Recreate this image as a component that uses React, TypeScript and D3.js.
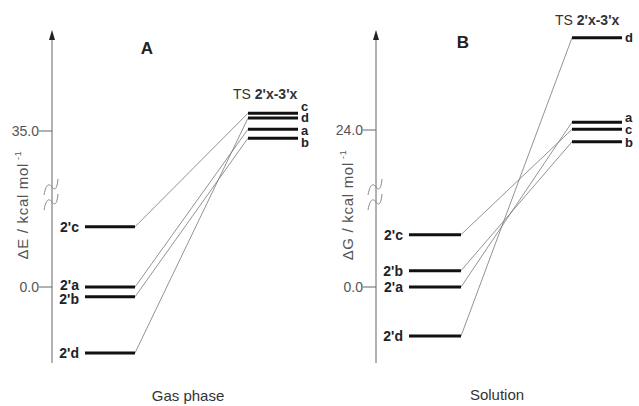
import React from "react";
import * as d3 from "d3";

// species order used by every array below
const species = ["a", "b", "c", "d"];

// panel A (gas phase), ΔE / kcal mol-1
const reactA = [0.0, -2.2, 13.5, -14.8];
const tsA = [35.4, 33.4, 39.0, 37.9];
const ticksA = [0.0, 35.0];

// panel B (solution), ΔG / kcal mol-1
const reactB = [0.0, 2.5, 8.0, -7.5];
const tsB = [25.2, 22.2, 24.1, 38.1];
const ticksB = [0.0, 24.0];

const W = 639;
const H = 406;
const gray = "#666";

type Panel = {
  title: string;
  yLabel: string;
  phase: string;
  react: number[];
  ts: number[];
  ticks: number[];
  axisX: number;
  y: d3.ScaleLinear<number, number>;
  leftX: [number, number];
  rightX: [number, number];
  tsTitle: [number, number];
  titleXY: [number, number];
  phaseXY: [number, number];
  yLabelX: number;
  leftDy: Record<string, number>;
  rightDy: Record<string, number>;
};

const panels: Panel[] = [
  {
    title: "A",
    yLabel: "ΔE / kcal mol",
    phase: "Gas phase",
    react: reactA,
    ts: tsA,
    ticks: ticksA,
    axisX: 52,
    y: d3.scaleLinear().domain([0, 35]).range([287, 131]),
    leftX: [85, 135],
    rightX: [248, 298],
    tsTitle: [233, 99],
    titleXY: [147, 54],
    phaseXY: [188, 401],
    yLabelX: 28,
    leftDy: { a: -2, b: 2, c: 0, d: 0 },
    rightDy: { a: 1, b: 4, c: -7, d: -1 },
  },
  {
    title: "B",
    yLabel: "ΔG / kcal mol",
    phase: "Solution",
    react: reactB,
    ts: tsB,
    ticks: ticksB,
    axisX: 376,
    y: d3.scaleLinear().domain([0, 24]).range([287, 130]),
    leftX: [409, 461],
    rightX: [572, 622],
    tsTitle: [555, 25],
    titleXY: [463, 48],
    phaseXY: [497, 400],
    yLabelX: 353,
    leftDy: { a: 0, b: 0, c: 0, d: 0 },
    rightDy: { a: -5, b: 1, c: 0, d: 0 },
  },
];

function Break({ x, y }: { x: number; y: number }) {
  const p = d3.path();
  [0, 15].forEach((o) => {
    const yy = y + o;
    p.moveTo(x - 8, yy + 9);
    p.bezierCurveTo(x - 6, yy - 2, x - 3, yy - 3, x, yy + 1);
    p.bezierCurveTo(x + 3, yy + 5, x + 5, yy + 3, x + 6, yy - 7);
  });
  return <path d={p.toString()} fill="none" stroke="#888" strokeWidth={1} />;
}

function PanelView({ p }: { p: Panel }) {
  const top = 30;
  const bottom = 363;
  return (
    <g fontFamily="Liberation Sans, Arial, sans-serif">
      <line x1={p.axisX} x2={p.axisX} y1={bottom} y2={top + 8} stroke={gray} strokeWidth={1} />
      <path
        d={`M${p.axisX},${top} L${p.axisX - 3},${top + 10} L${p.axisX + 3},${top + 10} Z`}
        fill="#222"
      />
      {p.ticks.map((t) => (
        <g key={t}>
          <line x1={p.axisX - 13} x2={p.axisX} y1={p.y(t)} y2={p.y(t)} stroke={gray} />
          <text
            x={p.axisX - 13}
            y={p.y(t)}
            dy="0.35em"
            textAnchor="end"
            fontSize={14}
            fill="#555"
          >
            {t.toFixed(1)}
          </text>
        </g>
      ))}
      <Break x={p.axisX} y={186} />
      <text
        transform={`translate(${p.yLabelX},205) rotate(-90)`}
        textAnchor="middle"
        fontSize={15}
        letterSpacing={0.7}
        fill="#555"
      >
        {p.yLabel}
        <tspan fontSize={9} dy={-7} dx={3}>-1</tspan>
      </text>
      <text x={p.titleXY[0]} y={p.titleXY[1]} textAnchor="middle" fontSize={17} fontWeight="bold" fill="#222">
        {p.title}
      </text>
      <text x={p.tsTitle[0]} y={p.tsTitle[1]} fontSize={14} fill="#333">
        TS <tspan fontWeight="bold">2'x-3'x</tspan>
      </text>
      <text x={p.phaseXY[0]} y={p.phaseXY[1]} textAnchor="middle" fontSize={15} fill="#333">
        {p.phase}
      </text>
      {species.map((s, i) => (
        <line
          key={"c" + s}
          x1={p.leftX[1]}
          y1={p.y(p.react[i])}
          x2={p.rightX[0]}
          y2={p.y(p.ts[i])}
          stroke="#777"
          strokeWidth={0.8}
        />
      ))}
      {species.map((s, i) => (
        <g key={"l" + s}>
          <line x1={p.leftX[0]} x2={p.leftX[1]} y1={p.y(p.react[i])} y2={p.y(p.react[i])} stroke="#111" strokeWidth={3} />
          <text
            x={p.leftX[0] - 6}
            y={p.y(p.react[i]) + p.leftDy[s]}
            dy="0.35em"
            textAnchor="end"
            fontSize={14}
            fontWeight="bold"
            fill="#222"
          >
            2'{s}
          </text>
          <line x1={p.rightX[0]} x2={p.rightX[1]} y1={p.y(p.ts[i])} y2={p.y(p.ts[i])} stroke="#111" strokeWidth={3} />
          <text
            x={p.rightX[1] + 3}
            y={p.y(p.ts[i]) + p.rightDy[s]}
            dy="0.35em"
            fontSize={13}
            fontWeight="bold"
            fill="#222"
          >
            {s}
          </text>
        </g>
      ))}
    </g>
  );
}

export default function App() {
  return (
    <svg width={W} height={H} style={{ position: "absolute", left: 0, top: 0, background: "#fff" }}>
      <rect width={W} height={H} fill="#fff" />
      {panels.map((p) => (
        <PanelView key={p.title} p={p} />
      ))}
    </svg>
  );
}
